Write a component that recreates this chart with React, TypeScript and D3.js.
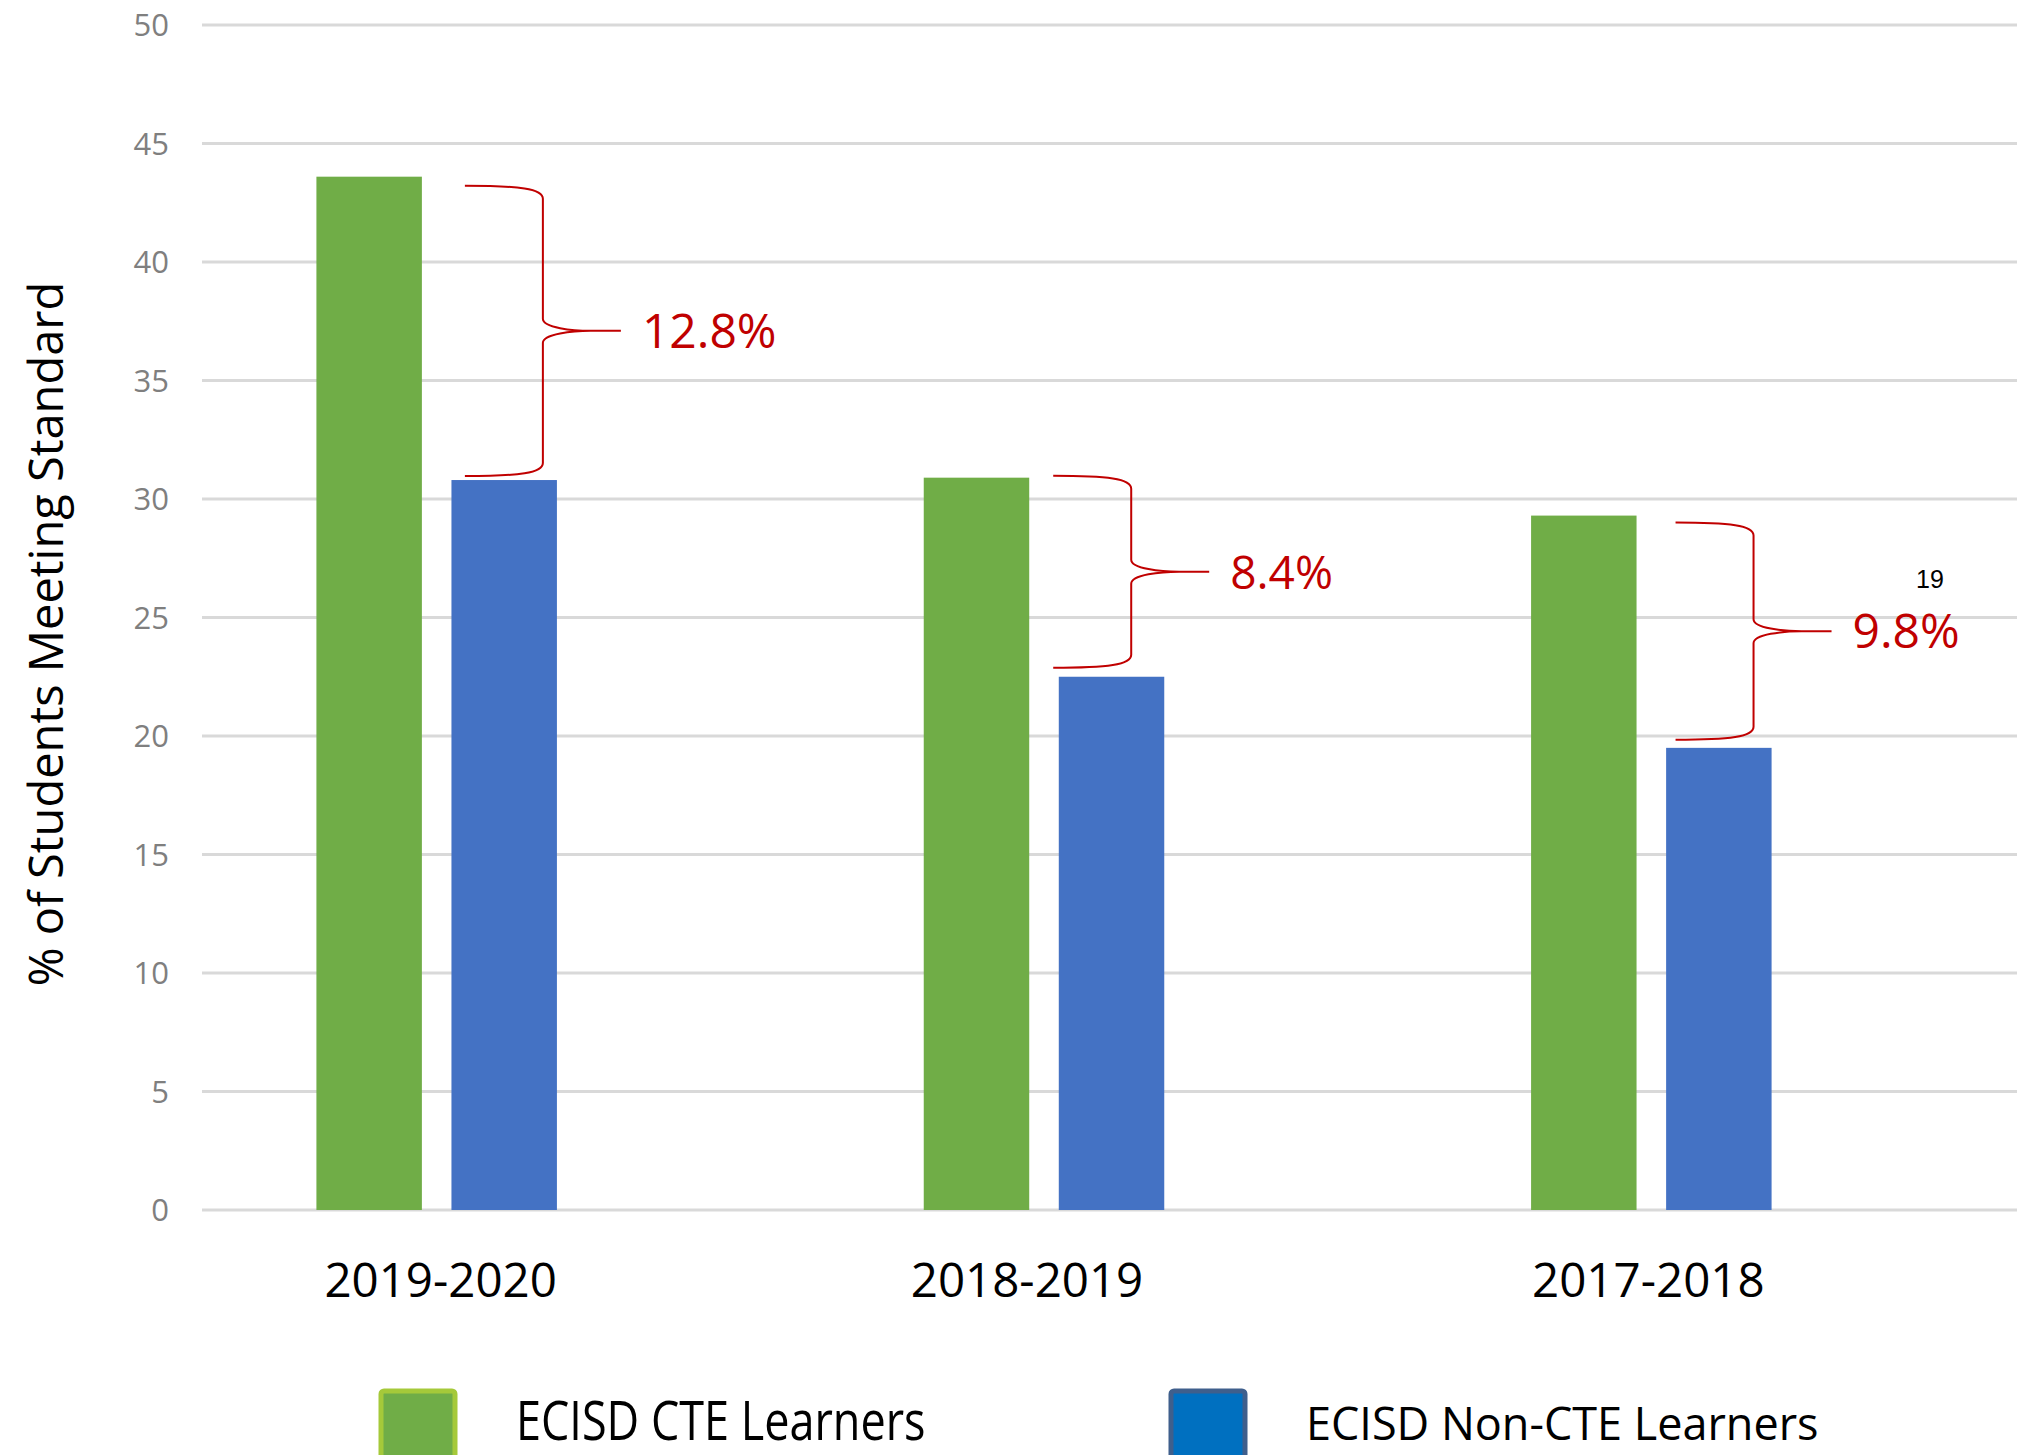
import React, { useEffect, useRef } from "react";
import * as d3 from "d3";

// chart data
const categories = ["2019-2020", "2018-2019", "2017-2018"];
const seriesNames = ["ECISD CTE Learners", "ECISD Non-CTE Learners"];
const cteValues = [43.6, 30.9, 29.3];
const nonCteValues = [30.8, 22.5, 19.5];
const yTicks = [0, 5, 10, 15, 20, 25, 30, 35, 40, 45, 50];
const yTitle = "% of Students Meeting Standard";
const pageNote = "19";

const App = () => {
  const svgRef = useRef<SVGSVGElement>(null);

  useEffect(() => {
    const width = 2017;
    const height = 1455;
    const font = "'Open Sans', sans-serif";

    const svg = d3.select(svgRef.current);
    svg.selectAll("*").remove();
    svg.attr("width", width).attr("height", height);

    const barColors = ["#70ad47", "#4472c4"];

    // Scales
    const x0 = d3.scaleBand<string>().domain(categories).range([133, 1955]).paddingInner(0.604).paddingOuter(0.302);
    const x1 = d3.scaleBand<string>().domain(seriesNames).range([0, x0.bandwidth()]).paddingInner(0.219);
    const y = d3.scaleLinear().domain([0, 50]).range([1210, 25]);

    // Gridlines
    svg
      .append("g")
      .selectAll("line")
      .data(yTicks)
      .enter()
      .append("line")
      .attr("x1", 202)
      .attr("x2", width)
      .attr("y1", (d) => y(d))
      .attr("y2", (d) => y(d))
      .attr("stroke", "#d9d9d9")
      .attr("stroke-width", 3);

    // Y tick labels
    svg
      .append("g")
      .selectAll("text")
      .data(yTicks)
      .enter()
      .append("text")
      .attr("x", 169)
      .attr("y", (d) => y(d))
      .attr("dy", "0.36em")
      .attr("text-anchor", "end")
      .style("font-family", font)
      .style("font-size", "31px")
      .style("fill", "#7f7f7f")
      .text((d) => d);

    // Y title
    svg
      .append("text")
      .attr("transform", `translate(63,634) rotate(-90)`)
      .attr("text-anchor", "middle")
      .style("font-family", font)
      .style("font-size", "47px")
      .style("fill", "#000")
      .text(yTitle);

    // Bars
    const rows = categories.map((c, i) => ({ category: c, values: [cteValues[i], nonCteValues[i]] }));
    const groups = svg
      .append("g")
      .selectAll("g")
      .data(rows)
      .enter()
      .append("g")
      .attr("transform", (d) => `translate(${x0(d.category)},0)`);

    groups
      .selectAll("rect")
      .data((d) => d.values.map((v, j) => ({ series: seriesNames[j], value: v, j })))
      .enter()
      .append("rect")
      .attr("x", (d) => x1(d.series)!)
      .attr("y", (d) => y(d.value))
      .attr("width", x1.bandwidth())
      .attr("height", (d) => y(0) - y(d.value))
      .attr("fill", (d) => barColors[d.j]);

    // X labels (the original labels sit a little off the group centres)
    const labelNudge = [4, -17, -3];
    svg
      .append("g")
      .selectAll("text")
      .data(categories)
      .enter()
      .append("text")
      .attr("x", (d, i) => x0(d)! + x0.bandwidth() / 2 + labelNudge[i])
      .attr("y", 1297)
      .attr("text-anchor", "middle")
      .style("font-family", font)
      .style("font-size", "47.5px")
      .style("fill", "#000")
      .text((d) => d);

    // Braces with the gap between the two series
    const braceNudge = [43, 24, 39];
    const braceTop = [9, -2, 7];
    const braceBottom = [-4, -9, -8];
    const ann = svg.append("g");
    categories.forEach((c, i) => {
      const greenRight = x0(c)! + x1(seriesNames[0])! + x1.bandwidth();
      const xl = greenRight + braceNudge[i];
      const xv = xl + 78;
      const xt = xl + 156;
      const top = y(cteValues[i]) + braceTop[i];
      const bottom = y(nonCteValues[i]) + braceBottom[i];
      const mid = (top + bottom) / 2;
      const p = d3.path();
      p.moveTo(xl, top);
      p.bezierCurveTo(xl + 55, top, xv, top + 3, xv, top + 13);
      p.lineTo(xv, mid - 12);
      p.bezierCurveTo(xv, mid - 3, xv + 30, mid, xv + 48, mid);
      p.lineTo(xt, mid);
      p.moveTo(xv + 48, mid);
      p.bezierCurveTo(xv + 30, mid, xv, mid + 3, xv, mid + 12);
      p.lineTo(xv, bottom - 13);
      p.bezierCurveTo(xv, bottom - 3, xl + 55, bottom, xl, bottom);
      ann
        .append("path")
        .attr("d", p.toString())
        .attr("fill", "none")
        .attr("stroke", "#c00000")
        .attr("stroke-width", 2);
      ann
        .append("text")
        .attr("x", xt + 21)
        .attr("y", mid + 17)
        .style("font-family", font)
        .style("font-size", i === 1 ? "46px" : "48px")
        .style("fill", "#c00000")
        .text(`${(cteValues[i] - nonCteValues[i]).toFixed(1)}%`);
    });

    // stray page number
    svg
      .append("text")
      .attr("x", 1930)
      .attr("y", 588)
      .attr("text-anchor", "middle")
      .style("font-family", "'Liberation Sans', Arial, sans-serif")
      .style("font-size", "25px")
      .style("fill", "#000")
      .text(pageNote);

    // Legend
    const legendX = [381, 1171];
    const legendStroke = ["#a5c93a", "#3f5f8c"];
    const legendFill = ["#70ad47", "#0070c0"];
    const legendStretch = [1.2, 1.02];
    seriesNames.forEach((name, i) => {
      svg
        .append("rect")
        .attr("x", legendX[i])
        .attr("y", 1391)
        .attr("width", 74)
        .attr("height", 90)
        .attr("rx", 3)
        .attr("fill", legendFill[i])
        .attr("stroke", legendStroke[i])
        .attr("stroke-width", 5);
      svg
        .append("text")
        .attr("transform", `translate(${legendX[i] + 135},1440) scale(1,${legendStretch[i]})`)
        .style("font-family", font)
        .style("font-size", "45px")
        .style("fill", "#000")
        .text(name);
    });
  }, []);

  return <svg ref={svgRef} style={{ position: "absolute", left: 0, top: 0, background: "#fff" }}></svg>;
};

export default App;
